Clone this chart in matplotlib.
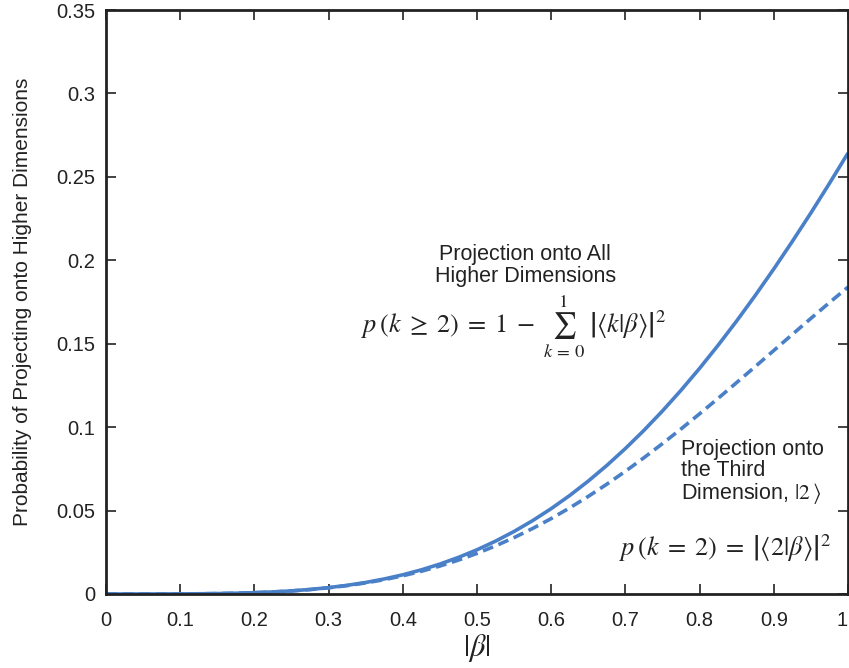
import matplotlib
matplotlib.use("Agg")
import matplotlib.pyplot as plt
import matplotlib.transforms as mtransforms

beta = [0.0, 0.025, 0.05, 0.075, 0.1, 0.125, 0.15, 0.175, 0.2, 0.225, 0.25,
        0.275, 0.3, 0.325, 0.35, 0.375, 0.4, 0.425, 0.45, 0.475, 0.5,
        0.525, 0.55, 0.575, 0.6, 0.625, 0.65, 0.675, 0.7, 0.725, 0.75,
        0.775, 0.8, 0.825, 0.85, 0.875, 0.9, 0.925, 0.95, 0.975, 1.0]
p_higher = [0.0, 0.0000002, 0.000003, 0.000016, 0.00005, 0.000121, 0.00025, 0.000459,
            0.00078, 0.001239, 0.00187, 0.00272, 0.00382, 0.005201, 0.00691,
            0.009008, 0.01151, 0.014472, 0.01794, 0.021937, 0.02650,
            0.031676, 0.03749, 0.04398, 0.05116, 0.059056, 0.06769, 0.077058,
            0.08719, 0.098072, 0.10971, 0.122111, 0.13524, 0.14910, 0.16366,
            0.178914, 0.19481, 0.211329, 0.22839, 0.246085, 0.26424]
p_third = [0.0, 0.0000002, 0.000003, 0.000016, 0.00005, 0.000120, 0.00025, 0.000455,
           0.00077, 0.001218, 0.00184, 0.002651, 0.00370, 0.005019, 0.00664,
           0.00859, 0.01091, 0.013617, 0.01675, 0.020312, 0.02434,
           0.028834, 0.03381, 0.039269, 0.04521, 0.051623, 0.05850, 0.065813,
           0.07355, 0.081667, 0.09014, 0.09893, 0.10799, 0.117269, 0.12673,
           0.136299, 0.14593, 0.155576, 0.16517, 0.174637, 0.18394]
xticks = [0, 0.1, 0.2, 0.3, 0.4, 0.5, 0.6, 0.7, 0.8, 0.9, 1]
xticklabels = ["0", "0.1", "0.2", "0.3", "0.4", "0.5", "0.6", "0.7", "0.8", "0.9", "1"]
yticks = [0, 0.05, 0.1, 0.15, 0.2, 0.25, 0.3, 0.35]
yticklabels = ["0", "0.05", "0.1", "0.15", "0.2", "0.25", "0.3", "0.35"]

plt.rcParams['font.family'] = ['Liberation Sans', 'DejaVu Sans']
plt.rcParams['mathtext.fontset'] = 'stix'

color = '#4a80c8'
tc = '#222222'
fig = plt.figure(figsize=(8.49, 6.68), dpi=100)
ax = fig.add_axes([0.1249, 0.1108, 0.8739, 0.8742])

ax.plot(beta, p_higher, color=color, lw=2.6, solid_capstyle='butt')
ax.plot(beta, p_third, color=color, lw=2.6, dashes=(3.0, 1.6))

ax.set_xlim(0, 1)
ax.set_ylim(0, 0.35)
ax.set_xticks(xticks)
ax.set_xticklabels(xticklabels)
ax.set_yticks(yticks)
ax.set_yticklabels(yticklabels)
ax.tick_params(direction='in', top=True, right=True, length=7, width=1.2,
               labelsize=14.5, color=tc, labelcolor=tc)
ax.tick_params(axis='x', pad=12)
ax.tick_params(axis='y', pad=8)
for s in ax.spines.values():
    s.set_linewidth(2.0)
    s.set_color(tc)

# nudge the last x tick label slightly left so it stays inside the figure
last = ax.get_xticklabels()[-1]
last.set_transform(last.get_transform() +
                   mtransforms.ScaledTranslation(-4 / 72, 0, fig.dpi_scale_trans))

ax.set_xlabel(r'$|\beta|$', fontsize=22, color=tc, labelpad=2)
ax.set_ylabel('Probability of Projecting onto Higher Dimensions', fontsize=15,
              color=tc, labelpad=17)

ax.text(0.565, 0.197, 'Projection onto All\nHigher Dimensions', fontsize=15.5,
        ha='center', va='center', color=tc, linespacing=1.05)
ax.text(0.550, 0.160,
        r'$p\,(k \;\geq\; 2) \;=\; 1 \;-\; \sum_{k\,=\,0}^{1}\; \left|\langle k|\beta\rangle\right|^2$',
        fontsize=19, ha='center', va='center', color=tc)
ax.text(0.775, 0.093, 'Projection onto\nthe Third\nDimension, $|2\\,\\rangle$',
        fontsize=15.5, ha='left', va='top', color=tc, linespacing=1.0)
ax.text(0.835, 0.0275, r'$p\,(k \;=\; 2) \;=\; \left|\langle 2|\beta\rangle\right|^2$',
        fontsize=19, ha='center', va='center', color=tc)

fig.savefig('out.png', dpi=100)
